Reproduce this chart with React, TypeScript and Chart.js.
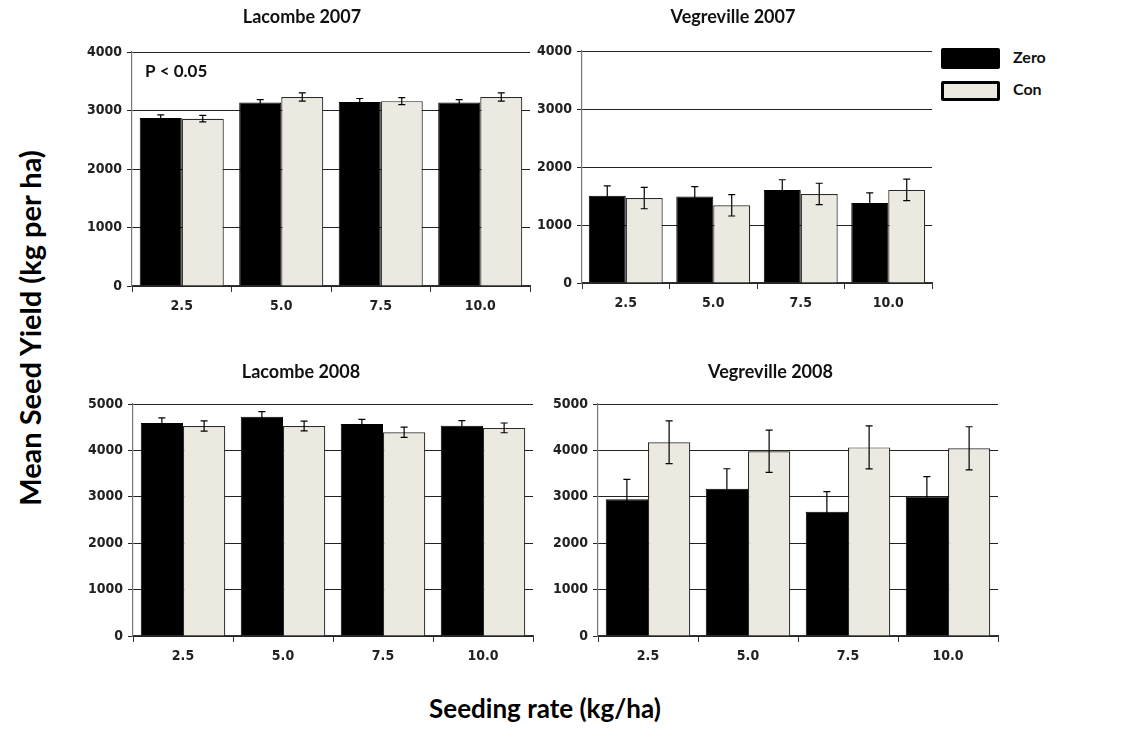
import React, { useEffect, useRef } from 'react';
import { Chart, registerables } from 'chart.js';

Chart.register(...registerables);

// ---- data ----
const categories = ['2.5', '5.0', '7.5', '10.0'];
const seriesNames = ['Zero', 'Con'];

const lac07Zero = [2870, 3135, 3145, 3135];
const lac07ZeroErr = [55, 50, 60, 50];
const lac07Con = [2860, 3230, 3160, 3230];
const lac07ConErr = [55, 70, 60, 70];

const veg07Zero = [1505, 1490, 1605, 1380];
const veg07ZeroErr = [170, 170, 175, 175];
const veg07Con = [1465, 1340, 1535, 1605];
const veg07ConErr = [185, 185, 185, 185];

const lac08Zero = [4590, 4725, 4570, 4530];
const lac08ZeroErr = [110, 110, 100, 110];
const lac08Con = [4525, 4525, 4390, 4485];
const lac08ConErr = [110, 105, 110, 105];

const veg08Zero = [2945, 3175, 2680, 3005];
const veg08ZeroErr = [430, 430, 430, 430];
const veg08Con = [4175, 3980, 4065, 4045];
const veg08ConErr = [460, 455, 465, 465];

const yMax2007 = 4000;
const yMax2008 = 5000;
const yStep = 1000;

// ---- styles ----
const TICK_FAMILY = "'Liberation Sans Narrow', 'DejaVu Sans Condensed', 'Liberation Sans', Arial, sans-serif";
const TITLE_FAMILY = "Lato, 'Open Sans', 'Noto Sans', sans-serif";
const ZERO_COLOR = '#000000';
const CON_COLOR = '#ECEAE0';

const errorBarPlugin = {
  id: 'errorBars',
  afterDatasetsDraw(chart: any, _args: any, opts: any) {
    const errs = opts && opts.errors;
    if (!errs) return;
    const { ctx } = chart;
    const yScale = chart.scales.y;
    chart.data.datasets.forEach((ds: any, i: number) => {
      const meta = chart.getDatasetMeta(i);
      const e = errs[i];
      if (!e) return;
      meta.data.forEach((bar: any, j: number) => {
        const v = ds.data[j];
        const x = bar.x;
        const yT = yScale.getPixelForValue(v + e[j]);
        const yB = yScale.getPixelForValue(v - e[j]);
        ctx.save();
        ctx.strokeStyle = '#000';
        ctx.lineWidth = 1.2;
        ctx.beginPath();
        ctx.moveTo(x, yT);
        ctx.lineTo(x, yB);
        ctx.moveTo(x - 3.5, yT);
        ctx.lineTo(x + 3.5, yT);
        ctx.moveTo(x - 3.5, yB);
        ctx.lineTo(x + 3.5, yB);
        ctx.stroke();
        ctx.restore();
      });
    });
  },
};

const notePlugin = {
  id: 'note',
  afterDraw(chart: any, _args: any, opts: any) {
    if (!opts || !opts.text) return;
    const { ctx, chartArea } = chart;
    ctx.save();
    ctx.font = `bold 17px ${TITLE_FAMILY}`;
    ctx.fillStyle = '#111';
    ctx.textBaseline = 'middle';
    ctx.textAlign = 'left';
    ctx.fillText(opts.text, chartArea.left + 13, chartArea.top + 20);
    ctx.restore();
  },
};

type PanelProps = {
  left: number;
  top: number;
  width: number;
  height: number;
  yAxisWidth: number;
  title: string;
  titleBottomPad: number;
  max: number;
  zero: number[];
  zeroErr: number[];
  con: number[];
  conErr: number[];
  note?: string;
};

function Panel(p: PanelProps) {
  const ref = useRef<HTMLCanvasElement | null>(null);
  useEffect(() => {
    if (!ref.current) return;
    const tickFont = { family: TICK_FAMILY, size: 14, weight: 'bold' as const };
    const chart = new Chart(ref.current, {
      type: 'bar',
      data: {
        labels: categories,
        datasets: [
          {
            label: seriesNames[0],
            data: p.zero,
            backgroundColor: ZERO_COLOR,
            borderColor: '#000',
            borderWidth: 1,
            categoryPercentage: 0.845,
            barPercentage: 1,
          },
          {
            label: seriesNames[1],
            data: p.con,
            backgroundColor: CON_COLOR,
            borderColor: '#2a2a2a',
            borderWidth: 1.2,
            categoryPercentage: 0.845,
            barPercentage: 1,
          },
        ],
      },
      options: {
        responsive: false,
        animation: false,
        layout: { padding: { left: 0, right: 2, top: 0, bottom: 0 } },
        plugins: {
          legend: { display: false },
          tooltip: { enabled: false },
          title: {
            display: true,
            text: p.title,
            color: '#111',
            font: { family: TITLE_FAMILY, size: 18, weight: 'bold' },
            padding: { top: 6, bottom: p.titleBottomPad },
          },
          errorBars: { errors: [p.zeroErr, p.conErr] },
          note: { text: p.note || '' },
        } as any,
        scales: {
          x: {
            grid: {
              display: true,
              drawOnChartArea: false,
              drawTicks: true,
              tickLength: 6,
              offset: true,
              color: '#333',
            },
            border: { color: '#333', width: 1.2 },
            ticks: { font: tickFont, color: '#222', padding: 6 },
            afterFit: (s: any) => {
              s.height = 44;
            },
          },
          y: {
            min: 0,
            max: p.max,
            ticks: {
              stepSize: yStep,
              font: tickFont,
              color: '#222',
              padding: 5,
              callback: (v: any) => String(v),
            },
            grid: { color: '#222', lineWidth: 1, tickLength: 5 },
            border: { color: '#777', width: 1.2 },
            afterFit: (s: any) => {
              s.width = p.yAxisWidth;
            },
          },
        },
      },
      plugins: [errorBarPlugin, notePlugin],
    });
    return () => chart.destroy();
  }, []);
  return (
    <canvas
      ref={ref}
      width={p.width}
      height={p.height}
      style={{ position: 'absolute', left: p.left, top: p.top, width: p.width, height: p.height }}
    />
  );
}

export default function App() {
  return (
    <div
      style={{
        position: 'absolute',
        left: 0,
        top: 0,
        width: 1125,
        height: 752,
        background: '#fff',
        overflow: 'hidden',
      }}
    >
      <Panel
        left={74}
        top={0}
        width={458}
        height={330}
        yAxisWidth={58}
        title="Lacombe 2007"
        titleBottomPad={24.4}
        max={yMax2007}
        zero={lac07Zero}
        zeroErr={lac07ZeroErr}
        con={lac07Con}
        conErr={lac07ConErr}
        note="P < 0.05"
      />
      <Panel
        left={534}
        top={0}
        width={400}
        height={327}
        yAxisWidth={48}
        title="Vegreville 2007"
        titleBottomPad={23.4}
        max={yMax2007}
        zero={veg07Zero}
        zeroErr={veg07ZeroErr}
        con={veg07Con}
        conErr={veg07ConErr}
      />
      <Panel
        left={69}
        top={355}
        width={466}
        height={325}
        yAxisWidth={64}
        title="Lacombe 2008"
        titleBottomPad={21.4}
        max={yMax2008}
        zero={lac08Zero}
        zeroErr={lac08ZeroErr}
        con={lac08Con}
        conErr={lac08ConErr}
      />
      <Panel
        left={543}
        top={355}
        width={457}
        height={325}
        yAxisWidth={55}
        title="Vegreville 2008"
        titleBottomPad={21.4}
        max={yMax2008}
        zero={veg08Zero}
        zeroErr={veg08ZeroErr}
        con={veg08Con}
        conErr={veg08ConErr}
      />

      {/* legend */}
      <div
        style={{
          position: 'absolute',
          left: 941,
          top: 48,
          width: 59,
          height: 21,
          background: ZERO_COLOR,
          borderRadius: 2,
        }}
      />
      <div
        style={{
          position: 'absolute',
          left: 941,
          top: 81,
          width: 59,
          height: 20,
          boxSizing: 'border-box',
          background: CON_COLOR,
          border: '3px solid #000',
          borderRadius: 2,
        }}
      />
      <div
        style={{
          position: 'absolute',
          left: 1013,
          top: 47,
          lineHeight: '22px',
          font: `bold 16px ${TITLE_FAMILY}`,
          color: '#111',
        }}
      >
        {seriesNames[0]}
      </div>
      <div
        style={{
          position: 'absolute',
          left: 1013,
          top: 79,
          lineHeight: '22px',
          font: `bold 16px ${TITLE_FAMILY}`,
          color: '#111',
        }}
      >
        {seriesNames[1]}
      </div>

      {/* axis titles */}
      <div
        style={{
          position: 'absolute',
          left: 29,
          top: 328,
          transform: 'translate(-50%, -50%) rotate(-90deg)',
          whiteSpace: 'nowrap',
          font: `bold 29px ${TITLE_FAMILY}`,
          color: '#000',
        }}
      >
        Mean Seed Yield (kg per ha)
      </div>
      <div
        style={{
          position: 'absolute',
          left: 545,
          top: 708,
          transform: 'translate(-50%, -50%)',
          whiteSpace: 'nowrap',
          font: `bold 26px ${TITLE_FAMILY}`,
          color: '#000',
        }}
      >
        Seeding rate (kg/ha)
      </div>
    </div>
  );
}
